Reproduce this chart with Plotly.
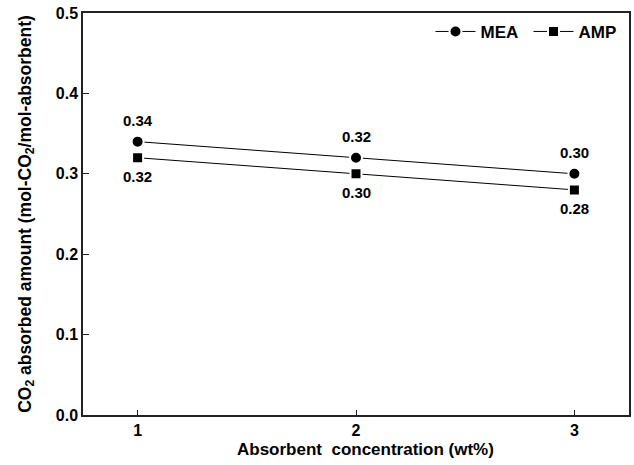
import plotly.graph_objects as go

concentration = [1, 2, 3]
mea_values = [0.34, 0.32, 0.30]
amp_values = [0.32, 0.30, 0.28]
mea_labels = ["0.34", "0.32", "0.30"]
amp_labels = ["0.32", "0.30", "0.28"]
y_ticks = [0.0, 0.1, 0.2, 0.3, 0.4, 0.5]
x_ticks = [1, 2, 3]
x_title = "Absorbent  concentration (wt%)"
y_title = "CO<sub>2</sub> absorbed amount (mol-CO<sub>2</sub>/mol-absorbent)"

FONT = "Liberation Sans, Arial, sans-serif"

fig = go.Figure()
fig.add_trace(go.Scatter(
    x=concentration, y=mea_values, name="MEA",
    mode="lines+markers",
    line=dict(color="black", width=1),
    marker=dict(symbol="circle", size=12, color="black", line=dict(color="white", width=2)),
))
fig.add_trace(go.Scatter(
    x=concentration, y=amp_values, name="AMP",
    mode="lines+markers",
    line=dict(color="black", width=1),
    marker=dict(symbol="square", size=11, color="black", line=dict(color="white", width=2)),
))

annotations = []
for xv, yv, t in zip(concentration, mea_values, mea_labels):
    annotations.append(dict(x=xv, y=yv, text=t, showarrow=False, yshift=21,
                            font=dict(family=FONT, size=15, color="black", weight="bold")))
for xv, yv, t in zip(concentration, amp_values, amp_labels):
    annotations.append(dict(x=xv, y=yv, text=t, showarrow=False, yshift=-19,
                            font=dict(family=FONT, size=15, color="black", weight="bold")))
annotations.append(dict(xref="paper", yref="paper", x=0.518, y=-0.085, yanchor="middle",
                        text=x_title, showarrow=False,
                        font=dict(family=FONT, size=17, color="black", weight="bold")))

fig.update_layout(
    width=634, height=465,
    margin=dict(l=83, r=3, t=13, b=50),
    paper_bgcolor="white", plot_bgcolor="white",
    font=dict(family=FONT, size=15, color="black", weight="bold"),
    showlegend=True,
    annotations=annotations,
    legend=dict(
        x=0.9954, y=0.953, xanchor="right", yanchor="middle",
        orientation="h", bgcolor="rgba(0,0,0,0)",
        font=dict(family=FONT, size=17, color="black", weight="bold"),
        itemwidth=40, entrywidth=43,
    ),
    xaxis=dict(
        range=[0.75, 3.25], tickvals=x_ticks, ticktext=[str(v) for v in x_ticks],
        showgrid=False, zeroline=False,
        showline=True, linecolor="#222", linewidth=1.5, mirror=True,
        ticks="inside", ticklen=5, tickcolor="#222", tickwidth=1,
        tickfont=dict(family=FONT, size=16, color="black", weight="bold"),
    ),
    yaxis=dict(
        range=[0, 0.5], tickvals=y_ticks, ticktext=[f"{v:.1f}" for v in y_ticks],
        showgrid=False, zeroline=False,
        showline=True, linecolor="#222", linewidth=1.5, mirror=True,
        ticks="inside", ticklen=6, tickcolor="#222", tickwidth=1,
        tickfont=dict(family=FONT, size=16, color="black", weight="bold"),
        title=dict(text=y_title, standoff=20,
                   font=dict(family=FONT, size=17.5, color="black", weight="bold")),
    ),
)

fig.write_html("out.html")
